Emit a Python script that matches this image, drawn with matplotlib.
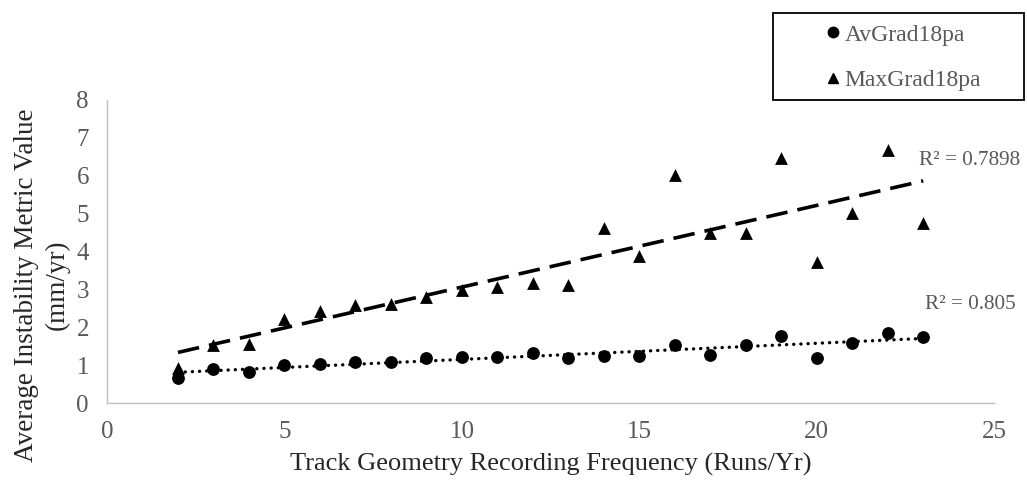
import numpy as np
import matplotlib
matplotlib.use("Agg")
import matplotlib.pyplot as plt
from matplotlib.lines import Line2D
from matplotlib.patches import Rectangle

# Recording frequency (runs per year)
runs_per_year = [2, 3, 4, 5, 6, 7, 8, 9, 10, 11, 12, 13, 14, 15, 16, 17, 18, 19, 20, 21, 22, 23]

# Average gradient instability metric (mm/yr)
av_grad = [0.65, 0.91, 0.82, 1.00, 1.02, 1.09, 1.09, 1.20, 1.22, 1.22, 1.31, 1.18,
           1.24, 1.24, 1.53, 1.27, 1.53, 1.77, 1.20, 1.59, 1.84, 1.75]

# Maximum gradient instability metric (mm/yr)
max_grad = [0.92, 1.53, 1.57, 2.21, 2.44, 2.59, 2.61, 2.79, 2.98, 3.07, 3.17, 3.11,
            4.63, 3.89, 6.03, 4.50, 4.50, 6.48, 3.73, 5.02, 6.68, 4.74]

series_names = ["AvGrad18pa", "MaxGrad18pa"]
r2_labels = ["R² = 0.805", "R² = 0.7898"]

x_ticks = [0, 5, 10, 15, 20, 25]
y_ticks = [0, 1, 2, 3, 4, 5, 6, 7, 8]

plt.rcParams["font.family"] = ["Liberation Serif", "DejaVu Serif"]

fig = plt.figure(figsize=(10.27, 4.8), dpi=100)
ax = fig.add_axes([0.1042, 0.1604, 0.8638, 0.6313])

x = np.array(runs_per_year, dtype=float)
ya = np.array(av_grad)
ym = np.array(max_grad)

ax.scatter(x, ya, marker="o", s=85, color="black", zorder=3, linewidths=0)
ax.scatter(x, ym, marker="^", s=85, color="black", zorder=3, linewidths=0)

# Linear trend lines
xl = np.array([x.min(), x.max()])
pa = np.polyfit(x, ya, 1)
pm = np.polyfit(x, ym, 1)
ax.plot(xl, np.polyval(pa, xl), color="black", lw=2.4, linestyle=(0, (0.05, 2.1)),
        dash_capstyle="round", zorder=2)
ax.plot(xl, np.polyval(pm, xl), color="black", lw=2.6, linestyle=(0, (6.0, 2.8)),
        zorder=2)

ax.text(24.3, 6.39, r2_labels[1], color="#595959", fontsize=15.3, ha="center", va="center")
ax.text(24.33, 2.59, r2_labels[0], color="#595959", fontsize=15.3, ha="center", va="center")

ax.set_xlim(0, 25)
ax.set_ylim(0, 8)
ax.set_xticks(x_ticks)
ax.set_yticks(y_ticks)
ax.tick_params(axis="x", length=0, labelsize=18, labelcolor="#595959", pad=13)
ax.tick_params(axis="y", length=0, labelsize=18, labelcolor="#595959", pad=13)

for side in ["top", "right"]:
    ax.spines[side].set_visible(False)
for side in ["left", "bottom"]:
    ax.spines[side].set_color("#bfbfbf")
    ax.spines[side].set_linewidth(1.0)

ax.set_xlabel("Track Geometry Recording Frequency (Runs/Yr)", fontsize=19,
              color="#262626", labelpad=7)
ax.set_ylabel("Average Instability Metric Value\n(mm/yr)", fontsize=19.5,
              color="#262626", linespacing=1.3)
ax.yaxis.set_label_coords(-0.042, 0.389)

# Legend frame and entries
fig.patches.append(Rectangle((773 / 1027, 1 - 100 / 480), 251 / 1027, 87 / 480,
                             transform=fig.transFigure, facecolor="white",
                             edgecolor="black", linewidth=1.3))
handles = [
    Line2D([], [], marker="o", color="black", linestyle="none", markersize=7.5),
    Line2D([], [], marker="^", color="black", linestyle="none", markersize=7.5),
]
leg = fig.legend(handles, series_names, loc="center",
                 bbox_to_anchor=(902 / 1027, 1 - 57.5 / 480), frameon=False, fontsize=17,
                 handletextpad=0.1, labelspacing=1.0, borderaxespad=0,
                 handlelength=0.8)
for t in leg.get_texts():
    t.set_color("#595959")

fig.savefig("out.png", dpi=100, facecolor="white")
